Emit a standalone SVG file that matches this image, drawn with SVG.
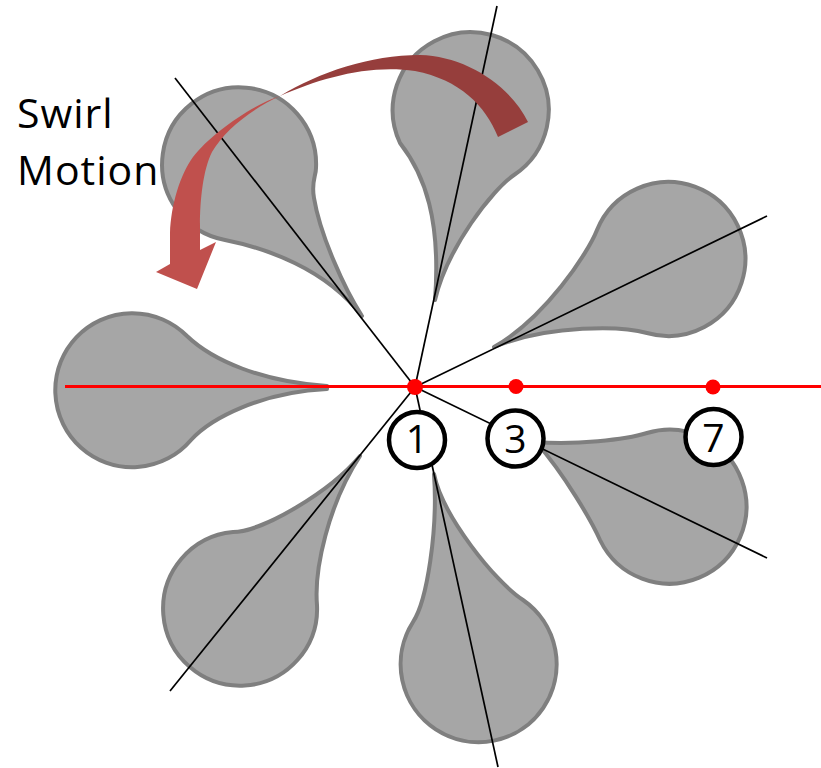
<svg xmlns="http://www.w3.org/2000/svg" width="821" height="768" viewBox="0 0 821 768">
<style>
.petal{fill:#A6A6A6;stroke:#7F7F7F;stroke-width:4;stroke-linejoin:round}
.axis{stroke:#000;stroke-width:1.7;fill:none}
.redaxis{stroke:#FF0000;stroke-width:3;fill:none}
.dot{fill:#FF0000}
.num circle{fill:#fff;stroke:#000;stroke-width:4.5}
.num text{font-family:"Open Sans","Liberation Sans",sans-serif;font-size:39px;text-anchor:middle;fill:#000}
.label{font-family:"Open Sans","Liberation Sans",sans-serif;font-size:41px;letter-spacing:1px;fill:#000}
</style>
<rect width="821" height="768" fill="#fff"/>
<g id="petals">
  <g id="petal-left"><path class="petal" d="M 327 386 C 262 382 212 360 187 336 A 77 77 0 1 0 191 440 C 211 418 262 392 327 389 Z"/></g>
  <g id="petal-upper-left"><path class="petal" d="M 362 316 C 345 290 320 235 314 198 C 311 182 316 176 316 168 A 77 77 0 1 0 225 240 C 265 248 325 268 362 316 Z"/></g>
  <g id="petal-top"><path class="petal" d="M 435 300 C 441 220 425 175 400 143 A 78 78 0 1 1 514 175 C 493 189 447 248 435 300 Z"/></g>
  <g id="petal-upper-right"><path class="petal" d="M 494 347 C 545 318 588 253 597 230 A 77 77 0 1 1 647 333 C 623 326 550 324 494 347 Z"/></g>
  <g id="petal-lower-right"><path class="petal" d="M 536 442 C 575 445 625 440 647 433 A 77 77 0 1 1 600 540 C 592 522 565 475 536 442 Z"/></g>
  <g id="petal-bottom"><path class="petal" d="M 434 474 C 442 515 495 582 523 600 A 78 78 0 1 1 413 622 C 427 601 438 530 434 474 Z"/></g>
  <g id="petal-lower-left"><path class="petal" d="M 360 456 C 330 492 262 532 233 532 A 77 77 0 1 0 317 605 C 314 570 328 505 360 456 Z"/></g>
</g>
<g id="connectors">
  <line class="axis" x1="175" y1="78" x2="415" y2="387"/>
  <line class="axis" x1="415" y1="387" x2="497" y2="6"/>
  <line class="axis" x1="415" y1="387" x2="767" y2="216"/>
  <line class="axis" x1="415" y1="387" x2="767" y2="558"/>
  <line class="axis" x1="415" y1="387" x2="498" y2="767"/>
  <line class="axis" x1="415" y1="387" x2="170" y2="691"/>
  <line class="redaxis" x1="65" y1="386.5" x2="821" y2="386.5"/>
</g>
<g id="points">
  <circle class="dot" cx="415" cy="387" r="8"/>
  <circle class="dot" cx="516" cy="386.5" r="7.5"/>
  <circle class="dot" cx="713" cy="387" r="7.5"/>
</g>
<g id="swirl-arrow">
  <path fill="#963E3C" d="M 280 96 C 320 72 370 55 420 55 C 465 56 510 85 528 122 L 498 137 C 485 105 460 80 415 71 C 370 64 320 78 280 96 Z"/>
  <path fill="#C0504D" d="M 280 96 C 250 106 210 135 193 157 C 180 175 171 205 170 233 L 170 264 L 156 272 L 197 289 L 216 242 L 200 250 L 200 225 C 200 200 203 170 212 152 C 225 130 250 110 280 96 Z"/>
</g>
<g id="node-1" class="num"><circle cx="417" cy="440" r="28"/><text x="417" y="453">1</text></g>
<g id="node-3" class="num"><circle cx="515.5" cy="438.5" r="28"/><text x="515.5" y="453">3</text></g>
<g id="node-7" class="num"><circle cx="713.5" cy="437" r="28"/><text x="713.5" y="452">7</text></g>
<g id="label">
  <text class="label" x="17" y="128">Swirl</text>
  <text class="label" x="17" y="185">Motion</text>
</g>
</svg>
